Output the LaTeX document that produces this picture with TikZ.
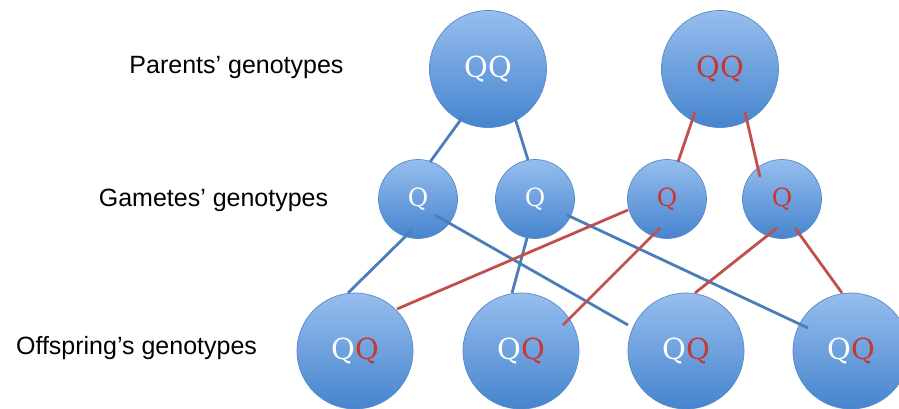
\documentclass[tikz,border=0pt]{standalone}
\usepackage{fontspec}
\setmainfont{DejaVu Serif}
\newfontfamily\labelfont{Liberation Sans}
\usetikzlibrary{calc}
\definecolor{lblue}{RGB}{74,126,187}
\definecolor{lred}{RGB}{192,80,77}
\definecolor{qred}{RGB}{200,55,50}
\definecolor{ctop}{RGB}{150,190,238}
\definecolor{cbot}{RGB}{70,132,206}
\definecolor{cedge}{RGB}{88,138,198}
\tikzset{
  ball/.style={circle, inner sep=0pt, top color=ctop, bottom color=cbot, draw=cedge, line width=0.7pt},
  bigball/.style={ball, minimum size=117pt, font=\fontsize{29}{29}\selectfont},
  smallball/.style={ball, minimum size=79pt, font=\fontsize{25}{25}\selectfont},
  rowlabel/.style={font=\labelfont\fontsize{25}{25}\selectfont, inner sep=0pt},
  blueline/.style={draw=lblue, line width=2.8pt},
  redline/.style={draw=lred, line width=2.8pt},
}
\begin{document}
\begin{tikzpicture}[x=1pt,y=-1pt]
\useasboundingbox (0,0) rectangle (899,408);
% labels
\node[rowlabel] (lp) at (236.5,67) {Parents’ genotypes};
\node[rowlabel] (lg) at (213.5,200) {Gametes’ genotypes};
\node[rowlabel] (lo) at (136.5,348) {Offspring’s genotypes};
% parents
\node[bigball, text=white] (p1) at (488,69) {QQ};
\node[bigball, text=qred] (p2) at (720,69) {QQ};
% gametes
\node[smallball, text=white] (g1) at (418,199) {Q};
\node[smallball, text=white] (g2) at (535,199) {Q};
\node[smallball, text=qred] (g3) at (667,199) {Q};
\node[smallball, text=qred] (g4) at (782,199) {Q};
% offspring
\node[bigball, minimum size=116pt] (o1) at (355,351) {\textcolor{white}{Q}\textcolor{qred}{Q}};
\node[bigball, minimum size=116pt] (o2) at (521,351) {\textcolor{white}{Q}\textcolor{qred}{Q}};
\node[bigball, minimum size=116pt] (o3) at (686,351) {\textcolor{white}{Q}\textcolor{qred}{Q}};
\node[bigball, minimum size=116pt] (o4) at (851,351) {\textcolor{white}{Q}\textcolor{qred}{Q}};
% parents to gametes
\draw[blueline] ($(p1)+(-26,49)$) -- ($(g1)+(12,-37)$);
\draw[blueline] ($(p1)+(27,49)$) -- ($(g2)+(-7,-39)$);
\draw[redline] ($(p2)+(-25,43)$) -- ($(g3)+(11,-37)$);
\draw[redline] ($(p2)+(25,43)$) -- ($(g4)+(-22,-22)$);
% gametes to offspring
\draw[blueline] ($(g1)+(-6,31)$) -- ($(o1)+(-7,-58)$);
\draw[blueline] ($(g1)+(17,16)$) -- ($(o3)+(-58,-26)$);
\draw[blueline] ($(g2)+(-8,39)$) -- ($(o2)+(-9,-58)$);
\draw[blueline] ($(g2)+(32,16)$) -- ($(o4)+(-43,-23)$);
\draw[redline] ($(g3)+(-39,11)$) -- ($(o1)+(42,-42)$);
\draw[redline] ($(g3)+(-7,29)$) -- ($(o2)+(42,-26)$);
\draw[redline] ($(g4)+(-5,29)$) -- ($(o3)+(9,-58)$);
\draw[redline] ($(g4)+(13,29)$) -- ($(o4)+(-9,-58)$);
\end{tikzpicture}
\end{document}
